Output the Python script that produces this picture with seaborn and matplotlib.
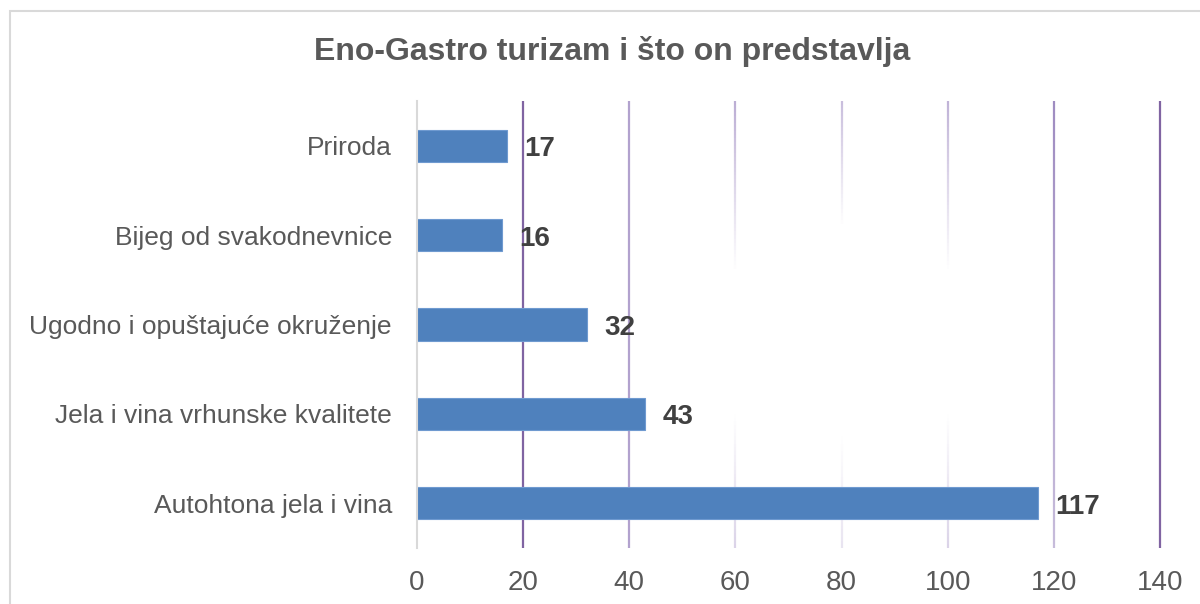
#!/usr/bin/env python3
"""Horizontal bar chart: Eno-Gastro turizam i što on predstavlja."""

import matplotlib

matplotlib.use("Agg")
import matplotlib.pyplot as plt
import numpy as np
import pandas as pd
import seaborn as sns
from matplotlib.collections import LineCollection
from matplotlib.colors import to_rgb
from matplotlib.patches import Rectangle
from matplotlib import font_manager

TITLE = "Eno-Gastro turizam i što on predstavlja"

CATEGORIES = [
    "Priroda",
    "Bijeg od svakodnevnice",
    "Ugodno i opuštajuće okruženje",
    "Jela i vina vrhunske kvalitete",
    "Autohtona jela i vina",
]
COUNTS = [17, 16, 32, 43, 117]
X_TICKS = [0, 20, 40, 60, 80, 100, 120, 140]

BAR_COLOR = "#4F81BD"
TEXT_GRAY = "#595959"
LABEL_DARK = "#404040"

# gridline look: (color, alpha bottom, fade-out bottom, fade-in top, alpha top)
GRID_STYLE = {
    20: ("#8064A2", 1.0, None, None, 1.0),
    40: ("#A592C6", 0.85, None, None, 0.85),
    60: ("#A592C6", 0.40, 0.30, 0.62, 0.75),
    80: ("#A592C6", 0.25, 0.25, 0.72, 0.60),
    100: ("#A592C6", 0.40, 0.30, 0.62, 0.70),
    120: ("#9A86BE", 0.55, None, None, 0.95),
    140: ("#8064A2", 1.0, None, None, 1.0),
}


def pick_font(names):
    available = {f.name for f in font_manager.fontManager.ttflist}
    for name in names:
        if name in available:
            return name
    return "DejaVu Sans"


def draw_gridline(ax, x, style):
    color, a_bot, f_lo, f_hi, a_top = style
    n = 120
    ys = np.linspace(0, 1, n + 1)
    mids = (ys[:-1] + ys[1:]) / 2
    if f_lo is None:
        alphas = np.interp(mids, [0, 1], [a_bot, a_top])
    else:
        alphas = np.interp(mids, [0, f_lo, f_hi, 1], [a_bot, 0.0, 0.0, a_top])
    rgb = to_rgb(color)
    segs = [[(x, ys[i]), (x, ys[i + 1])] for i in range(n)]
    cols = [(*rgb, a) for a in alphas]
    lc = LineCollection(segs, colors=cols, linewidths=1.6,
                        transform=ax.get_xaxis_transform(), zorder=0.5)
    lc.set_clip_on(False)
    ax.add_collection(lc)


def main() -> None:
    sns.set_theme(style="white")
    main_font = pick_font(["Liberation Sans", "Arial", "DejaVu Sans"])
    plt.rcParams["font.family"] = [main_font, "DejaVu Sans"]

    df = pd.DataFrame({"category": CATEGORIES, "count": COUNTS})

    fig = plt.figure(figsize=(12, 6.04), dpi=100)
    fig.patch.set_facecolor("white")
    ax = fig.add_axes([0.3475, 0.0927, 0.6192, 0.7401])

    sns.barplot(
        data=df,
        x="count",
        y="category",
        order=CATEGORIES,
        color=BAR_COLOR,
        saturation=1,
        width=0.36,
        edgecolor="#6F9AD0",
        linewidth=0.8,
        ax=ax,
        zorder=2,
    )

    ax.set_xlim(0, 140)
    ax.set_ylim(len(CATEGORIES) - 0.5, -0.5)
    ax.set_xticks(X_TICKS)
    ax.set_xticklabels([str(t) for t in X_TICKS], fontsize=20, color=TEXT_GRAY)
    ax.tick_params(axis="x", length=0, pad=16)
    ax.tick_params(axis="y", length=0, pad=18, labelsize=19, labelcolor=TEXT_GRAY)
    ax.set_xlabel("")
    ax.set_ylabel("")

    for x, style in GRID_STYLE.items():
        draw_gridline(ax, x, style)

    for side in ["top", "right", "bottom"]:
        ax.spines[side].set_visible(False)
    ax.spines["left"].set_color("#D9D9D9")
    ax.spines["left"].set_linewidth(1.5)

    for i, val in enumerate(COUNTS):
        ax.annotate(
            str(val),
            xy=(val, i),
            xytext=(12.5, -2.5),
            textcoords="offset points",
            va="center",
            ha="left",
            fontsize=20,
            fontweight="bold",
            color=LABEL_DARK,
            zorder=3,
        )

    fig.text(0.51, 0.915, TITLE, ha="center", va="center", fontsize=23,
             fontweight="bold", color=TEXT_GRAY)

    border = Rectangle((10 / 1200, -0.05), 1.2, 1.05 - 11 / 604,
                       transform=fig.transFigure, fill=False,
                       edgecolor="#D9D9D9", linewidth=1.5, zorder=0)
    fig.patches.append(border)

    fig.savefig("out.png", dpi=100)
    plt.close(fig)


if __name__ == "__main__":
    main()
